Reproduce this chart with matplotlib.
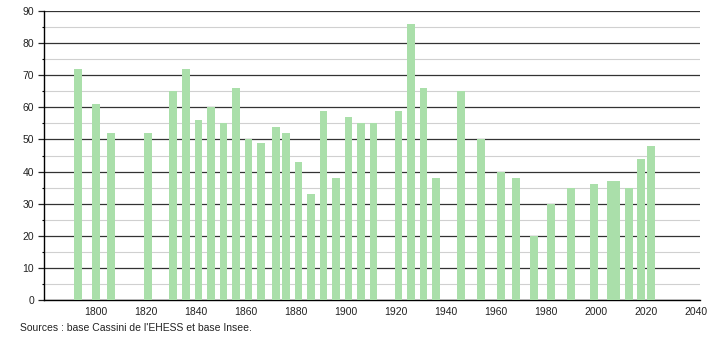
import matplotlib
matplotlib.use("Agg")
import matplotlib.pyplot as plt
from matplotlib.ticker import MultipleLocator

# census years and population
years = [1793, 1800, 1806, 1821, 1831, 1836, 1841, 1846, 1851, 1856,
         1861, 1866, 1872, 1876, 1881, 1886, 1891, 1896, 1901, 1906,
         1911, 1921, 1926, 1931, 1936, 1946, 1954, 1962, 1968, 1975,
         1982, 1990, 1999, 2006, 2008, 2013, 2018, 2022]
population = [72, 61, 52, 52, 65, 72, 56, 60, 55, 66,
              50, 49, 54, 52, 43, 33, 59, 38, 57, 55,
              55, 59, 86, 66, 38, 65, 50, 40, 38, 20,
              30, 35, 36, 37, 37, 35, 44, 48]
source_text = "Sources : base Cassini de l'EHESS et base Insee."

plt.rcParams['font.family'] = ['Liberation Sans', 'DejaVu Sans']

fig = plt.figure(figsize=(7.1, 3.4), dpi=100)
ax = fig.add_axes([0.062, 0.1176, 0.924, 0.85])

# major / minor horizontal grid
ax.yaxis.set_major_locator(MultipleLocator(10))
ax.yaxis.set_minor_locator(MultipleLocator(5))
ax.grid(axis='y', which='major', color='#333333', linewidth=0.9)
ax.grid(axis='y', which='minor', color='#d0d0d0', linewidth=0.8)
ax.set_axisbelow(True)

ax.bar(years, population, width=3.1, color='#aadfaa', linewidth=0, zorder=3)

ax.set_xlim(1779.3, 2041.5)
ax.set_ylim(0, 90)
ax.set_xticks(range(1800, 2041, 20))

for side in ['top', 'right']:
    ax.spines[side].set_visible(False)
ax.spines['left'].set_color('black')
ax.spines['bottom'].set_color('black')
ax.spines['left'].set_linewidth(1.0)
ax.spines['bottom'].set_linewidth(1.0)

ax.tick_params(axis='x', length=0, pad=5, labelsize=7.5, colors='#222222')
ax.tick_params(axis='y', which='major', length=4, width=0.9, pad=3,
               labelsize=7.5, colors='#222222')
ax.tick_params(axis='y', which='minor', length=1.5, width=0.8)

fig.text(20 / 710, 1 - 328 / 340, source_text, fontsize=7.5,
         color='#222222', va='center', ha='left')

fig.savefig('out.png', dpi=100)
